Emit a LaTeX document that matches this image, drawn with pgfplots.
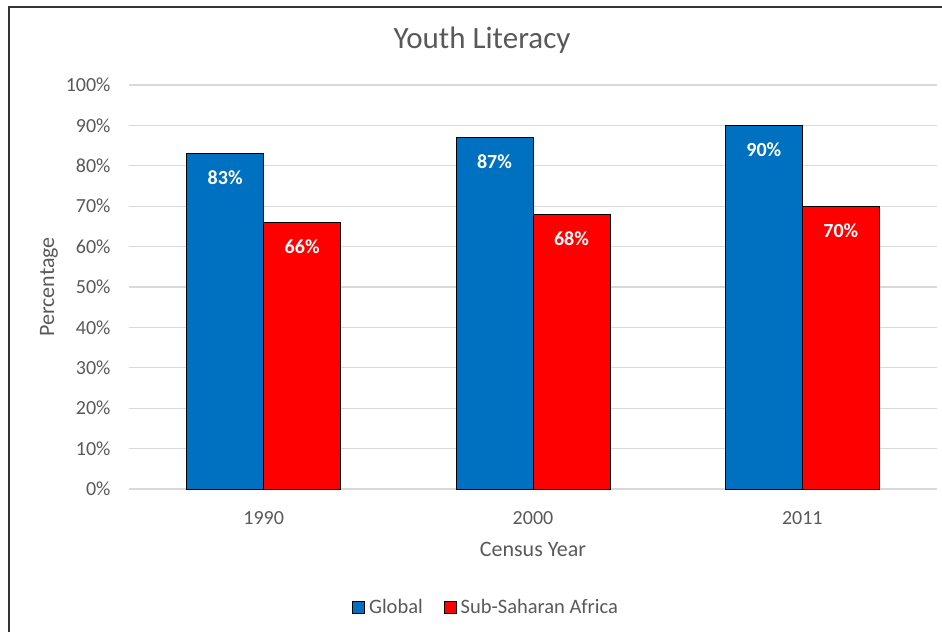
\documentclass[border=0pt]{standalone}
\usepackage{pgfplots}
\pgfplotsset{compat=1.18}
\usepackage{fontspec}
\setmainfont{Carlito}
\definecolor{txt}{HTML}{595959}
\definecolor{gridc}{HTML}{D9D9D9}
\definecolor{gblue}{HTML}{0070C0}
\definecolor{sred}{HTML}{FF0000}

\begin{document}
\begin{tikzpicture}[x=1pt,y=1pt]
\useasboundingbox (-129,-143) rectangle (813,489);
\begin{axis}[
  at={(0,0)}, anchor=south west,
  scale only axis, width=808pt, height=404pt,
  ymin=0, ymax=100, ytick={0,10,...,100},
  xmin=-0.5, xmax=2.5, xtick=data, xticklabels={1990,2000,2011},
  ybar=0pt, bar width=77pt,
  ymajorgrids, grid style={gridc, line width=1.2pt},
  axis line style={draw=none},
  major tick length=0pt,
  /pgf/number format/assume math mode=true,
  tick label style={font=\fontsize{20}{24}\selectfont, text=txt},
  yticklabel={\pgfmathprintnumber{\tick}\%},
  yticklabel style={xshift=-15pt},
  xticklabel style={yshift=-19pt},
  title={Youth Literacy},
  title style={at={(0.4369,1.0965)}, anchor=center, font=\fontsize{31}{36}\selectfont, text=txt},
  xlabel={Census Year}, ylabel={Percentage},
  label style={font=\fontsize{22}{26}\selectfont, text=txt},
  xlabel style={at={(0.5,-0.1485)}, anchor=center},
  ylabel style={at={(-0.099,0.5)}, anchor=center},
  nodes near coords={\pgfmathprintnumber{\pgfplotspointmeta}\%},
  every node near coord/.append style={font=\bfseries\fontsize{20}{24}\selectfont, text=white, anchor=center, yshift=-24pt},
  legend style={at={(0.442,-0.292)}, anchor=center, draw=none, legend columns=2,
    font=\fontsize{20.5}{24}\selectfont, text=txt,
    /tikz/every odd column/.append style={column sep=2pt},
    /tikz/every even column/.append style={column sep=19pt}},
  legend image code/.code={\draw[#1] (0pt,-6pt) rectangle (12pt,6pt);},
]
\addplot[fill=gblue, draw=black, line width=0.8pt] coordinates {(0,83) (1,87) (2,90)};
\addplot[fill=sred, draw=black, line width=0.8pt] coordinates {(0,66) (1,68) (2,70)};
\legend{Global, Sub-Saharan Africa}
\end{axis}
% chart area frame
\draw[line width=2pt, black!80] (-120,-143) -- (-120,482) -- (813,482);
\end{tikzpicture}
\end{document}
